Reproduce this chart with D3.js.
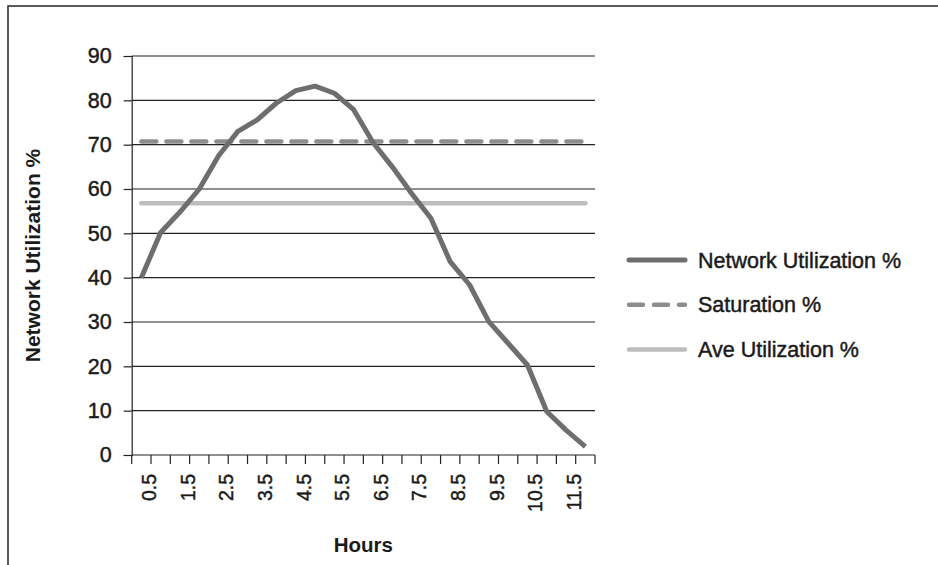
<!DOCTYPE html>
<html lang="en">
<head>
	<meta charset="utf-8">
	<title>Network Utilization %</title>
	<script src="https://d3js.org/d3.v7.min.js"></script>
	<style>
	body { margin: 0; background: #fff; }
	text { font-family: "Liberation Sans", Arial, sans-serif; fill: #1a1a1a; }
	/* the original labels are a little heavier than a plain regular weight */
	text.medium { stroke: #1a1a1a; stroke-width: 0.45px; }
	</style>
</head>
<body>
	<div id="chart"></div>
	<script>
		// categories (half hours) and the three series
		const hours = ["0.5", "1", "1.5", "2", "2.5", "3", "3.5", "4", "4.5", "5", "5.5", "6",
			"6.5", "7", "7.5", "8", "8.5", "9", "9.5", "10", "10.5", "11", "11.5", "12"];
		const networkUtil = [40, 50.2, 54.8, 60, 67.5, 73, 75.6, 79.4, 82.2, 83.2, 81.6, 77.9,
			70.5, 65, 59, 53.4, 43.6, 38.4, 30.1, 25.2, 20.3, 9.8, 5.6, 1.9];
		const saturation = [70.7, 70.7, 70.7, 70.7, 70.7, 70.7, 70.7, 70.7, 70.7, 70.7, 70.7, 70.7,
			70.7, 70.7, 70.7, 70.7, 70.7, 70.7, 70.7, 70.7, 70.7, 70.7, 70.7, 70.7];
		const aveUtil = [56.8, 56.8, 56.8, 56.8, 56.8, 56.8, 56.8, 56.8, 56.8, 56.8, 56.8, 56.8,
			56.8, 56.8, 56.8, 56.8, 56.8, 56.8, 56.8, 56.8, 56.8, 56.8, 56.8, 56.8];
		const yTicks = [0, 10, 20, 30, 40, 50, 60, 70, 80, 90];
		const xLabels = ["0.5", "1.5", "2.5", "3.5", "4.5", "5.5", "6.5", "7.5", "8.5", "9.5", "10.5", "11.5"];
		const seriesNames = ["Network Utilization %", "Saturation %", "Ave Utilization %"];

		let width = 938;
		let height = 565;
		let plotLeft = 131.7, plotRight = 595, plotTop = 56, plotBottom = 455;

		let svg = d3.select("#chart")
			.append("svg")
			.attr("width", width)
			.attr("height", height);

		// frame (runs off the right and bottom of the picture)
		svg.append("rect")
			.attr("x", 8).attr("y", 6)
			.attr("width", 1200).attr("height", 1200)
			.attr("fill", "none")
			.attr("stroke", "#333")
			.attr("stroke-width", 1.6);

		let x = d3.scaleBand()
			.domain(hours)
			.range([plotLeft, plotRight]);
		let cx = d => x(d) + x.bandwidth() / 2;

		let y = d3.scaleLinear()
			.domain([0, 90])
			.range([plotBottom, plotTop]);

		// gridlines
		svg.append("g")
			.selectAll("line")
			.data(yTicks.slice(1))
			.enter()
			.append("line")
			.attr("x1", plotLeft).attr("x2", plotRight)
			.attr("y1", d => y(d)).attr("y2", d => y(d))
			.attr("stroke", "#222")
			.attr("stroke-width", 1.2);

		// y axis
		let yAxis = svg.append("g")
			.attr("transform", `translate(${plotLeft},0)`)
			.call(d3.axisLeft(y).tickValues(yTicks).tickSize(8).tickPadding(12));
		yAxis.attr("font-family", null).attr("font-size", null);
		yAxis.select(".domain").attr("stroke", "#222").attr("stroke-width", 1.2);
		yAxis.selectAll(".tick line").attr("stroke", "#222").attr("stroke-width", 1.2);
		yAxis.selectAll(".tick text")
			.attr("class", "medium")
			.style("font-size", "21.5px")
			.attr("fill", "#1a1a1a");

		// x axis: ticks sit on the category boundaries
		let xAxis = svg.append("g");
		xAxis.append("line")
			.attr("x1", plotLeft).attr("x2", plotRight)
			.attr("y1", plotBottom).attr("y2", plotBottom)
			.attr("stroke", "#222").attr("stroke-width", 1.2);
		xAxis.selectAll("line.tick")
			.data(hours.concat(["end"]))
			.enter()
			.append("line")
			.attr("class", "tick")
			.attr("x1", d => d === "end" ? plotRight : x(d))
			.attr("x2", d => d === "end" ? plotRight : x(d))
			.attr("y1", plotBottom).attr("y2", plotBottom + 9)
			.attr("stroke", "#222").attr("stroke-width", 1.2);
		xAxis.selectAll("text")
			.data(xLabels)
			.enter()
			.append("text")
			.attr("class", "medium")
			.attr("transform", d => `translate(${cx(d) + 8},${plotBottom + 19}) rotate(-90)`)
			.attr("text-anchor", "end")
			.attr("dy", "0.35em")
			.style("font-size", "19.5px")
			.text(d => d);

		// axis titles
		svg.append("text")
			.attr("x", (plotLeft + plotRight) / 2)
			.attr("y", 552)
			.attr("text-anchor", "middle")
			.style("font-size", "20.5px")
			.style("font-weight", "bold")
			.text("Hours");
		svg.append("text")
			.attr("transform", `translate(40,${(plotTop + plotBottom) / 2}) rotate(-90)`)
			.attr("text-anchor", "middle")
			.style("font-size", "21px")
			.style("font-weight", "bold")
			.text("Network Utilization %");

		// series lines
		let line = d3.line()
			.x((d, i) => cx(hours[i]))
			.y(d => y(d));

		svg.append("path")
			.datum(aveUtil)
			.attr("fill", "none")
			.attr("stroke", "#bdbdbf")
			.attr("stroke-width", 4.5)
			.attr("stroke-linecap", "round")
			.attr("d", line);

		svg.append("path")
			.datum(saturation)
			.attr("fill", "none")
			.attr("stroke", "#8d8d8f")
			.attr("stroke-width", 4.5)
			.attr("stroke-linecap", "round")
			.attr("stroke-dasharray", "15,10")
			.attr("d", line);

		svg.append("path")
			.datum(networkUtil)
			.attr("fill", "none")
			.attr("stroke", "#6e6e70")
			.attr("stroke-width", 5)
			.attr("stroke-linejoin", "round")
			.attr("d", line);

		// legend
		let legendStyles = [
			{ color: "#6e6e70", dash: null, w: 5 },
			{ color: "#8d8d8f", dash: "14,11", w: 4.5 },
			{ color: "#bdbdbf", dash: null, w: 4.5 }
		];
		let legend = svg.selectAll("g.legend")
			.data(seriesNames)
			.enter()
			.append("g")
			.attr("class", "legend")
			.attr("transform", (d, i) => `translate(629,${260 + i * 44.7})`);
		legend.append("line")
			.attr("x1", 0).attr("x2", 56)
			.attr("stroke", (d, i) => legendStyles[i].color)
			.attr("stroke-width", (d, i) => legendStyles[i].w)
			.attr("stroke-linecap", "round")
			.attr("stroke-dasharray", (d, i) => legendStyles[i].dash);
		legend.append("text")
			.attr("class", "medium")
			.attr("x", 69)
			.attr("dy", "0.35em")
			.style("font-size", "21.5px")
			.text(d => d);
	</script>
</body>
</html>
